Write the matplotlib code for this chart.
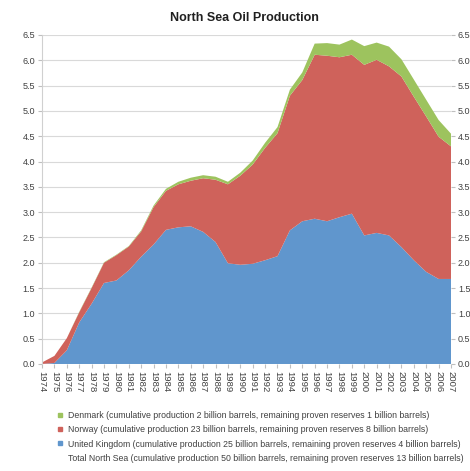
import matplotlib
matplotlib.use("Agg")
import matplotlib.pyplot as plt
from matplotlib.lines import Line2D

years = list(range(1974, 2008))

# million barrels per day
uk = [0.00, 0.02, 0.27, 0.82, 1.19, 1.60, 1.65, 1.85, 2.12, 2.36, 2.65, 2.70,
      2.72, 2.61, 2.41, 1.99, 1.96, 1.98, 2.05, 2.13, 2.64, 2.82, 2.87, 2.82,
      2.90, 2.97, 2.54, 2.59, 2.54, 2.31, 2.05, 1.82, 1.68, 1.68]
norway = [0.03, 0.14, 0.24, 0.20, 0.31, 0.40, 0.50, 0.47, 0.50, 0.74, 0.77, 0.85,
          0.90, 1.06, 1.23, 1.56, 1.76, 1.96, 2.22, 2.43, 2.66, 2.79, 3.24, 3.27,
          3.16, 3.14, 3.37, 3.42, 3.34, 3.37, 3.23, 3.07, 2.81, 2.62]
denmark = [0.00, 0.00, 0.00, 0.01, 0.01, 0.01, 0.01, 0.01, 0.02, 0.03, 0.04, 0.05,
           0.06, 0.06, 0.06, 0.05, 0.06, 0.08, 0.10, 0.12, 0.12, 0.15, 0.22, 0.25,
           0.25, 0.30, 0.37, 0.34, 0.39, 0.34, 0.34, 0.33, 0.33, 0.25]

labels = [
    "Denmark (cumulative production 2 billion barrels, remaining proven reserves 1 billion barrels)",
    "Norway (cumulative production 23 billion barrels, remaining proven reserves 8 billion barrels)",
    "United Kingdom (cumulative production 25 billion barrels, remaining proven reserves 4 billion barrels)",
    "Total North Sea (cumulative production 50 billion barrels, remaining proven reserves 13 billion barrels)",
]

c_uk = "#6096cd"
c_no = "#cf625b"
c_dk = "#9dc35e"

plt.rcParams["font.family"] = ["Liberation Sans", "DejaVu Sans"]

fig = plt.figure(figsize=(4.70, 4.71), dpi=100)
ax = fig.add_axes([0.0894, 0.2272, 0.8702, 0.6985])

ax.stackplot(years, uk, norway, denmark, colors=[c_uk, c_no, c_dk], linewidth=0)

ax.set_xlim(1974, 2007)
ax.set_ylim(0, 6.5)
ax.set_yticks([i * 0.5 for i in range(14)])
ax.set_yticklabels(["%.1f" % (i * 0.5) for i in range(14)])
ax.set_xticks(years)
ax.set_xticklabels([str(y) for y in years], rotation=270)
ax.grid(axis="y", color="#d9d9d9", linewidth=0.8)
ax.set_axisbelow(True)
ax.tick_params(axis="y", right=True, labelright=True, length=3, color="#bfbfbf",
               labelsize=6.5, labelcolor="#404040", pad=2)
ax.tick_params(axis="x", length=3, color="#bfbfbf", labelsize=6.8,
               labelcolor="#404040", pad=2)
for s in ["top", "right", "bottom"]:
    ax.spines[s].set_visible(False)
ax.spines["left"].set_color("#d0d0d0")

fig.text(0.52, 0.962, "North Sea Oil Production", ha="center", va="center",
         fontsize=9, fontweight="bold", color="#202020")

handles = [
    Line2D([], [], marker="s", linestyle="none", color=c_dk, markersize=2.5),
    Line2D([], [], marker="s", linestyle="none", color=c_no, markersize=2.5),
    Line2D([], [], marker="s", linestyle="none", color=c_uk, markersize=2.5),
    Line2D([], [], marker="None", linestyle="none"),
]
fig.legend(handles, labels, loc="upper left", bbox_to_anchor=(0.122, 0.128),
           frameon=False, handlelength=0.6, handletextpad=0.6,
           labelspacing=0.62, borderaxespad=0, borderpad=0, labelcolor="#404040",
           prop={"size": 6.3})

fig.savefig("out.png", dpi=100)
